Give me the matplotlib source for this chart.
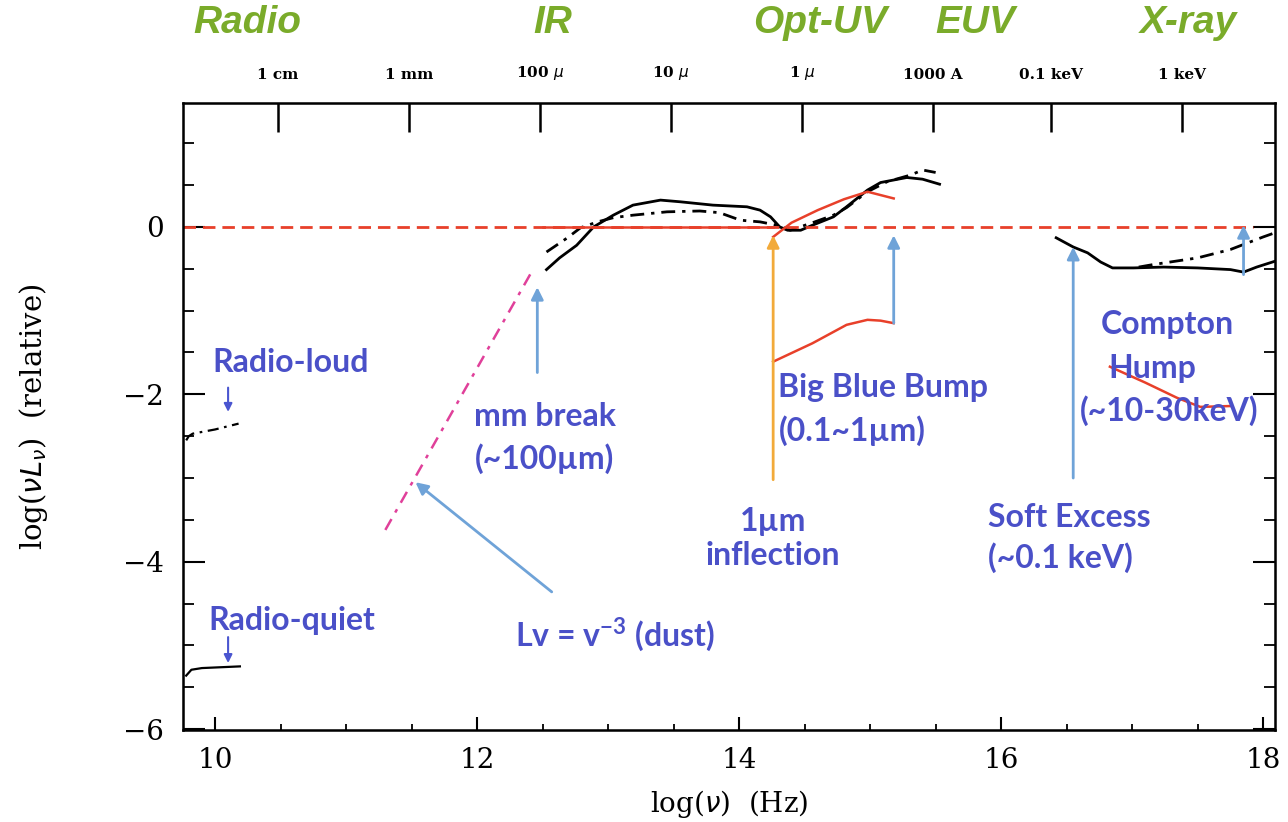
import matplotlib.pyplot as plt
import numpy as np

# --- data (x = log nu [Hz], y = log nuLnu relative) ---
# infrared - UV bump, solid and dash-dot
ir_x = [12.53, 12.63, 12.76, 12.89, 13.04, 13.19, 13.40, 13.55, 13.80, 14.06, 14.16, 14.24,
        14.31, 14.37, 14.47, 14.56, 14.72, 14.82, 14.98, 15.08, 15.28, 15.40, 15.53]
ir_y = [-0.51, -0.37, -0.22, 0.0, 0.14, 0.26, 0.32, 0.30, 0.26, 0.24, 0.20, 0.12,
        0.0, -0.04, -0.04, 0.02, 0.12, 0.24, 0.44, 0.53, 0.59, 0.57, 0.51]
ir2_x = [12.53, 12.69, 12.79, 12.92, 13.04, 13.19, 13.45, 13.70, 13.85, 14.01, 14.16, 14.29,
         14.39, 14.56, 14.72, 14.82, 14.98, 15.13, 15.31, 15.40, 15.50]
ir2_y = [-0.30, -0.13, -0.01, 0.06, 0.11, 0.14, 0.18, 0.19, 0.17, 0.08, 0.06, 0.02,
         -0.04, 0.05, 0.14, 0.23, 0.42, 0.54, 0.62, 0.68, 0.65]

# X-ray part
xr_x = [16.42, 16.55, 16.66, 16.76, 16.85, 17.01, 17.24, 17.50, 17.75, 17.85, 17.95, 18.09]
xr_y = [-0.13, -0.24, -0.31, -0.42, -0.49, -0.49, -0.48, -0.49, -0.51, -0.54, -0.48, -0.41]
xr2_x = [17.05, 17.16, 17.50, 17.75, 18.0, 18.09]
xr2_y = [-0.48, -0.45, -0.37, -0.27, -0.12, -0.07]

# radio
rl_x = [9.78, 9.80, 9.83, 10.0, 10.18]
rl_y = [-2.55, -2.50, -2.47, -2.42, -2.35]
rq_x = [9.78, 9.82, 9.9, 10.19]
rq_y = [-5.36, -5.29, -5.27, -5.25]

# dust slope
dust_x = [11.30, 12.43]
dust_y = [-3.62, -0.50]

# red overlays
flat_x = [12.50, 14.26]
flat_y = [0.0, 0.0]
uv_x = [14.26, 14.40, 14.60, 14.80, 14.98, 15.18]
uv_y = [-0.12, 0.05, 0.20, 0.33, 0.42, 0.34]
bbb_x = [14.26, 14.56, 14.82, 14.98, 15.08, 15.18]
bbb_y = [-1.61, -1.39, -1.17, -1.11, -1.12, -1.15]
comp_x = [16.83, 17.10, 17.34, 17.52, 17.75]
comp_y = [-1.67, -1.86, -2.04, -2.15, -2.14]

# top axis: wavelength / energy marks
top_ticks = [10.48, 11.48, 12.48, 13.48, 14.48, 15.48, 16.38, 17.38]
top_labels = ['1 cm', '1 mm', r'100 $\mu$', r'10 $\mu$', r'1 $\mu$', '1000 A', '0.1 keV', '1 keV']

bands = ['Radio', 'IR', 'Opt-UV', 'EUV', 'X-ray']
band_x = [10.25, 12.58, 14.62, 15.80, 17.43]

blue_txt = '#4a50c8'
arrow_blue = '#6fa3d8'
red = '#e8402a'

fig = plt.figure(figsize=(12.88, 8.22), dpi=100)
ax = fig.add_axes([0.1421, 0.1119, 0.8478, 0.7628])
ax.set_xlim(9.756, 18.09)
ax.set_ylim(-6.01, 1.48)

ax.plot(ir_x, ir_y, color='black', lw=2.0)
ax.plot(ir2_x, ir2_y, color='black', lw=2.0, dashes=[5, 2.5, 1.2, 2.5])
ax.plot(xr_x, xr_y, color='black', lw=2.0)
ax.plot(xr2_x, xr2_y, color='black', lw=2.0, dashes=[5, 2.5, 1.2, 2.5])
ax.plot(rl_x, rl_y, color='black', lw=1.6, dashes=[5, 2.5, 1.2, 2.5])
ax.plot(rq_x, rq_y, color='black', lw=1.6)
ax.plot(dust_x, dust_y, color='#e0409a', lw=1.8, dashes=[5, 3, 1.5, 3])

ax.plot([9.756, 17.92], [0, 0], color=red, lw=2.0, dashes=[4.5, 2.5])
ax.plot(flat_x, flat_y, color=red, lw=1.8)
ax.plot(uv_x, uv_y, color=red, lw=1.8)
ax.plot(bbb_x, bbb_y, color=red, lw=1.8)
ax.plot(comp_x, comp_y, color=red, lw=1.8)

# arrows
def arr(x0, y0, x1, y1, c=arrow_blue, ms=18, lw=2.0):
    ax.annotate('', xy=(x1, y1), xytext=(x0, y0),
                arrowprops=dict(arrowstyle='-|>', color=c, lw=lw, mutation_scale=ms,
                                shrinkA=0, shrinkB=0))

arr(12.46, -1.74, 12.46, -0.72)
arr(12.57, -4.36, 11.53, -3.05)
arr(14.26, -3.02, 14.26, -0.10, c='#f2aa3a')
arr(15.18, -1.15, 15.18, -0.10)
arr(16.55, -3.0, 16.55, -0.24)
arr(17.85, -0.57, 17.85, 0.02)
arr(10.10, -1.92, 10.10, -2.21, c='#4a55d0', ms=12, lw=1.5)
arr(10.10, -4.90, 10.10, -5.21, c='#4a55d0', ms=12, lw=1.5)

tfont = dict(family='Lato', weight='bold', color=blue_txt, fontsize=23)
ax.text(9.98, -1.62, 'Radio-loud', ha='left', va='center', **tfont)
ax.text(9.95, -4.70, 'Radio-quiet', ha='left', va='center', **tfont)
ax.text(11.98, -2.27, 'mm break', ha='left', va='center', **tfont)
ax.text(11.98, -2.77, '(~100µm)', ha='left', va='center', **tfont)
ax.text(12.29, -4.88, 'Lv = v$^{\\mathregular{-3}}$ (dust)', ha='left', va='center', **tfont)
ax.text(14.26, -3.72, '1µm\ninflection', ha='center', va='center', linespacing=1.2, **tfont)
ax.text(14.30, -1.92, 'Big Blue Bump', ha='left', va='center', **tfont)
ax.text(14.30, -2.43, '(0.1~1µm)', ha='left', va='center', **tfont)
ax.text(15.90, -3.47, 'Soft Excess', ha='left', va='center', **tfont)
ax.text(15.90, -3.95, '(~0.1 keV)', ha='left', va='center', **tfont)
ax.text(17.27, -1.17, 'Compton', ha='center', va='center', **tfont)
ax.text(17.15, -1.69, 'Hump', ha='center', va='center', **tfont)
ax.text(17.28, -2.19, '(~10-30keV)', ha='center', va='center', **tfont)

# axes styling
serif = 'DejaVu Serif'
for s in ax.spines.values():
    s.set_linewidth(1.8)
ax.set_xticks([10, 12, 14, 16, 18])
ax.set_xticks(np.arange(10, 18.01, 0.5), minor=True)
ax.set_yticks([-6, -4, -2, 0])
ax.set_yticklabels(['\u22126', '\u22124', '\u22122', '0'])
ax.set_yticks(np.arange(-6, 1.01, 0.5), minor=True)
ax.tick_params(axis='x', which='major', direction='in', length=9.5, width=1.5,
               labelsize=20, pad=12, top=False)
ax.tick_params(axis='x', which='minor', direction='in', length=4.5, width=1.3, top=False)
ax.tick_params(axis='y', which='major', direction='in', length=16, width=1.5,
               labelsize=20, pad=14, right=True)
ax.tick_params(axis='y', which='minor', direction='in', length=8, width=1.3, right=True)
for lab in ax.get_xticklabels() + ax.get_yticklabels():
    lab.set_family(serif)
ax.set_xlabel(r'log($\nu$)  (Hz)', family=serif, fontsize=20)
ax.xaxis.set_label_coords(0.5, -0.092)
ax.set_ylabel(r'log($\nu L_\nu$)  (relative)', family=serif, fontsize=21)
ax.yaxis.set_label_coords(-0.122, 0.5)

top = ax.twiny()
top.set_xlim(ax.get_xlim())
top.set_xticks(top_ticks)
top.set_xticklabels(top_labels, family=serif, fontsize=11, fontweight='bold')
top.tick_params(axis='x', direction='in', length=21, width=1.8, pad=15)
top.tick_params(axis='x', which='minor', top=False)

for b, bx in zip(bands, band_x):
    px = ax.transData.transform((bx, 0))[0] / fig.bbox.width
    fig.text(px, 0.972, b, ha='center', va='center', family='Liberation Sans',
             weight='bold', style='italic', fontsize=28, color='#7aab2a')

fig.savefig('out.png', dpi=100)
